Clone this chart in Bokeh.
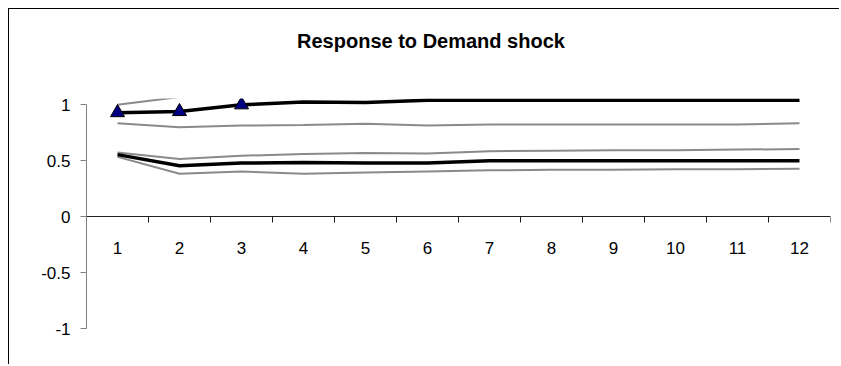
from bokeh.plotting import figure
from bokeh.models import Range1d, FixedTicker, NumeralTickFormatter, Label, BoxAnnotation
from bokeh.embed import file_html
from bokeh.resources import INLINE

# ---------------- data ----------------
title_text = "Response to Demand shock"
periods = [1, 2, 3, 4, 5, 6, 7, 8, 9, 10, 11, 12]
x_tick_labels = ["1", "2", "3", "4", "5", "6", "7", "8", "9", "10", "11", "12"]
y_tick_values = [-1, -0.5, 0, 0.5, 1]
y_tick_labels = ["-1", "-0.5", "0", "0.5", "1"]

upper_mid = [0.93, 0.94, 1.00, 1.025, 1.02, 1.04, 1.04, 1.04, 1.04, 1.04, 1.04, 1.04]
upper_hi = [1.00, 1.07, 1.185, 1.23, 1.21, 1.265, 1.255, 1.255, 1.255, 1.255, 1.255, 1.245]
upper_lo = [0.835, 0.80, 0.815, 0.82, 0.83, 0.815, 0.825, 0.825, 0.825, 0.825, 0.825, 0.835]
lower_mid = [0.555, 0.455, 0.48, 0.485, 0.48, 0.48, 0.50, 0.50, 0.50, 0.50, 0.50, 0.50]
lower_hi = [0.575, 0.515, 0.545, 0.56, 0.57, 0.565, 0.585, 0.59, 0.595, 0.595, 0.60, 0.605]
lower_lo = [0.535, 0.385, 0.405, 0.385, 0.395, 0.405, 0.415, 0.42, 0.42, 0.425, 0.425, 0.43]
marked_count = 3

# plot-area ceiling (values above it are hidden, as in the original chart)
plot_area_top = 1.056

FONT = "Liberation Sans"

p = figure(
    width=831, height=356,
    x_range=Range1d(0.5, 12.5), y_range=Range1d(-1.06, 1.851),
    output_backend="svg", toolbar_location=None,
    min_border_left=77, min_border_right=10, min_border_top=0, min_border_bottom=30,
)
p.styles = {"margin-left": "8px", "margin-top": "8px",
            "border-left": "1px solid #000000", "border-top": "1px solid #000000"}
p.grid.visible = False
p.outline_line_color = None
p.background_fill_color = "white"
p.border_fill_color = "white"
p.title.text = ""

# x axis crossing at y = 0, ticks between categories
boundaries = [c - 0.5 for c in periods] + [periods[-1] + 0.5]
xa = p.xaxis[0]
xa.fixed_location = 0
xa.ticker = FixedTicker(ticks=periods, minor_ticks=boundaries)
xa.major_label_overrides = dict(zip(periods, x_tick_labels))
xa.major_tick_out = 0
xa.major_tick_in = 0
xa.minor_tick_out = 6
xa.minor_tick_in = 0
xa.axis_line_color = "#202020"
xa.minor_tick_line_color = "#202020"
xa.major_label_standoff = 19
xa.major_label_text_font = FONT
xa.major_label_text_font_size = "17px"
xa.major_label_text_color = "black"

ya = p.yaxis[0]
ya.bounds = (-1, 1)
ya.ticker = FixedTicker(ticks=y_tick_values)
ya.formatter = NumeralTickFormatter(format="0.[0]")
ya.major_label_overrides = dict(zip(y_tick_values, y_tick_labels))
ya.axis_line_color = "#808080"
ya.major_tick_line_color = "#808080"
ya.major_tick_out = 6
ya.major_tick_in = 0
ya.minor_tick_line_color = None
ya.major_label_standoff = 10
ya.major_label_text_font = FONT
ya.major_label_text_font_size = "17px"
ya.major_label_text_color = "black"

GRAY = "#8a8a8a"
for band in (upper_hi, upper_lo, lower_hi, lower_lo):
    p.line(periods, band, line_color=GRAY, line_width=2)
p.line(periods, upper_mid, line_color="black", line_width=3.5)
p.line(periods, lower_mid, line_color="black", line_width=3.5)
p.scatter(periods[:marked_count], upper_mid[:marked_count], marker="triangle",
          size=14, fill_color="#000080", line_color="black", line_width=1)

# mask everything above the plot-area ceiling
p.add_layout(BoxAnnotation(bottom=plot_area_top, fill_color="white", fill_alpha=1.0,
                           line_color=None))

p.add_layout(Label(x=6.056, y=1.571, text=title_text, text_align="center",
                   text_baseline="alphabetic", text_font=FONT, text_font_style="bold",
                   text_font_size="20px", text_color="black"))

open("out.html", "w").write(file_html(p, INLINE))
